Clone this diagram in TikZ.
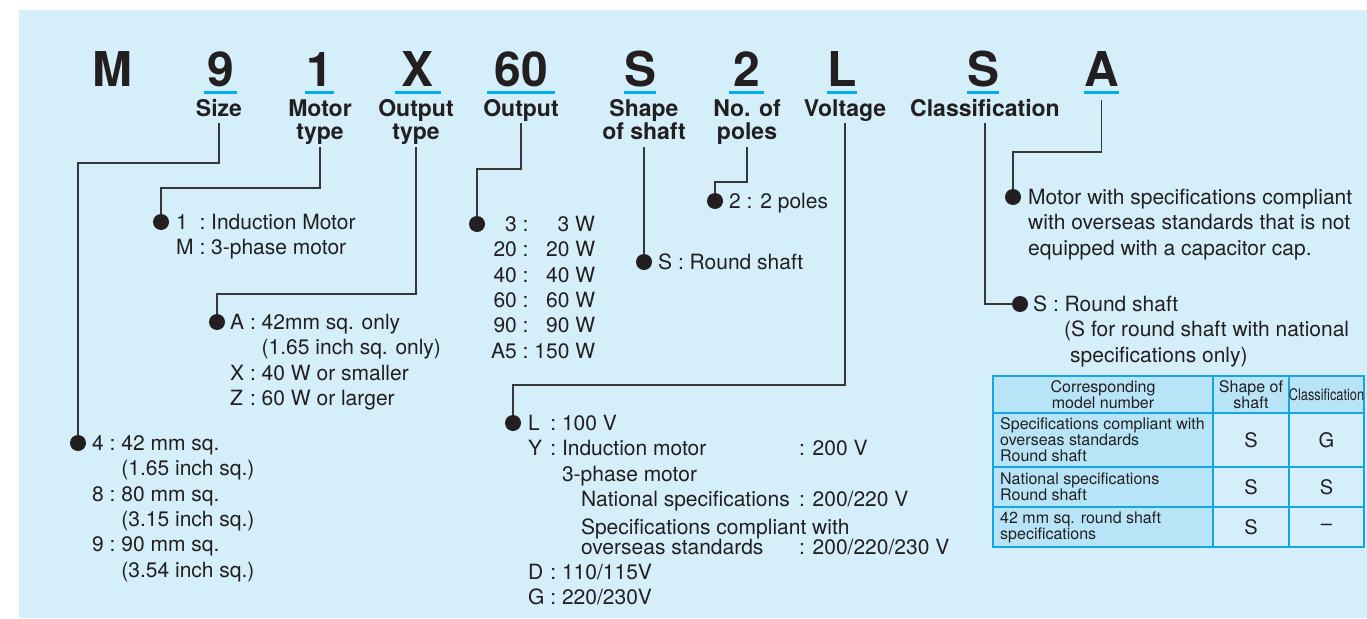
\documentclass[tikz,border=0pt]{standalone}
\usepackage{fontspec}
\setmainfont{TeX Gyre Heros}
\usepackage{graphicx}
\usepackage{tikz}
\usetikzlibrary{positioning, calc}
\definecolor{cPanel}{RGB}{212,238,250}
\definecolor{cCyan}{RGB}{0,174,239}
\definecolor{cHead}{RGB}{184,228,248}
\definecolor{cRule}{RGB}{20,165,228}
\definecolor{cInk}{RGB}{35,31,32}
\definecolor{cLead}{RGB}{55,55,55}
\tikzset{
	codechar/.style={anchor=base, inner sep=0pt, font=\fontsize{48}{48}\selectfont\bfseries, text=cInk},
	ttl/.style     ={anchor=base, inner sep=0pt, font=\fontsize{23}{23.5}\selectfont\bfseries, text=cInk},
	desc/.style    ={anchor=base west, inner sep=0pt, font=\fontsize{21}{25.3}\selectfont, text=cInk},
	bullet/.style  ={circle, fill=cInk, minimum size=16pt, inner sep=0pt},
	lead/.style    ={draw=cLead, line width=1.1pt},
	uline/.style   ={draw=cCyan, line width=3pt},
	% table styles
	cell/.style    ={font=\fontsize{16}{16}\selectfont, text=cInk, inner sep=0pt, align=left},
	val/.style     ={font=\fontsize{20}{20}\selectfont, text=cInk, inner sep=0pt},
	tabrule/.style ={draw=cRule, line width=1.3pt},
}
\begin{document}
\begin{tikzpicture}[x=1pt, y=-1pt]
	\useasboundingbox (0,0) rectangle (1367,618);
	\fill[cPanel] (19,10) rectangle (1367,618);
	% model code
	\node[codechar] (cM) at (112.5,86) {M};
	\node[codechar, minimum width=33pt] (c9) at (220.5,86) {9};
	\node[codechar, minimum width=29pt] (c1) at (319.5,86) {1};
	\node[codechar, minimum width=46pt] (cX) at (418,86) {X};
	\node[codechar, minimum width=68pt] (c60) at (521,86) {60};
	\node[codechar, minimum width=32pt] (cS) at (640,86) {S};
	\node[codechar, minimum width=35pt] (c2) at (746.5,86) {2};
	\node[codechar, minimum width=30pt] (cL) at (842,86) {L};
	\node[codechar, minimum width=30pt] (cSc) at (983,86) {S};
	\node[codechar, minimum width=31pt] (cA) at (1101.5,86) {A};
	\foreach \c in {c9,c1,cX,c60,cS,c2,cL,cSc,cA}
		\draw[uline] ([yshift=-6pt]\c.south west) -- ([yshift=-6pt]\c.south east);
	% titles
	\node[ttl] (lsize) at (219,116) {\begin{tabular}[t]{@{}c@{}}Size\end{tabular}};
	\node[ttl] (lmotor) at (320,116) {\begin{tabular}[t]{@{}c@{}}Motor\\type\end{tabular}};
	\node[ttl] (louttype) at (416,116) {\begin{tabular}[t]{@{}c@{}}Output\\type\end{tabular}};
	\node[ttl] (loutput) at (521,116) {\begin{tabular}[t]{@{}c@{}}Output\end{tabular}};
	\node[ttl] (lshaft) at (644,116) {\begin{tabular}[t]{@{}c@{}}Shape\\of shaft\end{tabular}};
	\node[ttl] (lpoles) at (747,116) {\begin{tabular}[t]{@{}c@{}}No. of\\poles\end{tabular}};
	\node[ttl] (lvolt) at (845,116) {\begin{tabular}[t]{@{}c@{}}Voltage\end{tabular}};
	\node[ttl] (lclass) at (985,116) {\begin{tabular}[t]{@{}c@{}}Classification\end{tabular}};
	% bullets
	\node[bullet] (dsize) at (78,443) {};
	\node[bullet] (dmotor) at (161,222) {};
	\node[bullet] (douttype) at (217,322) {};
	\node[bullet] (doutput) at (477,224) {};
	\node[bullet] (dshaft) at (644,262) {};
	\node[bullet] (dpoles) at (715,201) {};
	\node[bullet] (dvolt) at (513,423) {};
	\node[bullet] (dclass) at (1020,304) {};
	\node[bullet] (dA) at (1013,197) {};
	% leaders
	\draw[lead] (lsize.south) -- (lsize.south |- 0,163) -| (dsize);
	\draw[lead] (lmotor.south) -- (lmotor.south |- 0,188) -| (dmotor);
	\draw[lead] (louttype.south) -- (louttype.south |- 0,294) -| (douttype);
	\draw[lead] (loutput.south) -- (loutput.south |- 0,169) -| (doutput);
	\draw[lead] (lshaft.south) -- (dshaft);
	\draw[lead] (lpoles.south) -- (lpoles.south |- 0,182) -| (dpoles);
	\draw[lead] (lvolt.south) -- (lvolt.south |- 0,385) -| (dvolt);
	\draw[lead] (lclass.south) |- (dclass);
	\draw[lead] ([yshift=-14pt]cA.south) -- (cA.south |- 0,152) -| (dA);
	% option texts
	\node[desc] (tsize) at (92,450.5) {\begin{tabular}[t]{@{}l@{\ }l@{\ }l@{}}
		4 & : & 42 mm sq.\\
		  &   & (1.65 inch sq.)\\
		8 & : & 80 mm sq.\\
		  &   & (3.15 inch sq.)\\
		9 & : & 90 mm sq.\\
		  &   & (3.54 inch sq.)
	\end{tabular}};
	\node[desc] (tmotor) at (176,229.5) {\begin{tabular}[t]{@{}l@{\ }l@{\ }l@{}}
		1 & : & Induction Motor\\
		M & : & 3-phase motor
	\end{tabular}};
	\node[desc] (touttype) at (230,329.5) {\begin{tabular}[t]{@{}l@{\ }l@{\ }l@{}}
		A & : & 42mm sq. only\\
		  &   & (1.65 inch sq. only)\\
		X & : & 40 W or smaller\\
		Z & : & 60 W or larger
	\end{tabular}};
	\node[desc] (toutput) at (491,231.5) {\begin{tabular}[t]{@{}r@{\ }l@{\ }r@{}}
		3 & : & 3 W\\
		20 & : & 20 W\\
		40 & : & 40 W\\
		60 & : & 60 W\\
		90 & : & 90 W\\
		A5 & : & 150 W
	\end{tabular}};
	\node[desc] (tshaft) at (658,269.5) {S : Round shaft};
	\node[desc] (tpoles) at (729,208.5) {2 : 2 poles};
	\node[desc] (tvolt) at (528,430.5) {\begin{tabular}[t]{@{}l@{\ }l@{\ }l@{}}
		L & : & 100 V\\
		Y & : & \makebox[237pt][l]{Induction motor}: 200 V\\
		  &   & 3-phase motor\\
		  &   & \hspace{19pt}\makebox[218pt][l]{National specifications}: 200/220 V\\[2.5pt]
		  &   & \hspace{19pt}Specifications compliant with\\[-5.5pt]
		  &   & \hspace{19pt}\makebox[218pt][l]{overseas standards}: 200/220/230 V\\
		D & : & 110/115V\\
		G & : & 220/230V
	\end{tabular}};
	\node[desc] (tA) at (1028,204.5) {\begin{tabular}[t]{@{}l@{}}
		Motor with specifications compliant\\
		with overseas standards that is not\\
		equipped with a capacitor cap.
	\end{tabular}};
	\node[desc] (tclass) at (1033,311.5) {\begin{tabular}[t]{@{}l@{}}
		S : Round shaft\\
		\hspace{31pt}(S for round shaft with national\\
		\hspace{37pt}specifications only)
	\end{tabular}};
	% table
	\fill[cHead] (993,376) rectangle (1364,413);
	\fill[cHead] (993,413) rectangle (1213,547);
	\draw[tabrule] (993,376) rectangle (1364,547);
	\draw[tabrule] (993,413) -- (1364,413);
	\draw[tabrule] (993,467) -- (1364,467);
	\draw[tabrule] (993,507) -- (1364,507);
	\draw[tabrule] (1213,376) -- (1213,547);
	\draw[tabrule] (1289,376) -- (1289,547);
	\node[cell, align=center] (h1) at (1103,394.5) {Corresponding\\model number};
	\node[cell, align=center] (h2) at (1251,394.5) {Shape of\\shaft};
	\node[cell] (h3) at (1326.5,394.5) {\scalebox{0.8}[1]{Classification}};
	\node[cell, anchor=west] (r1) at (1000,440) {Specifications compliant with\\overseas standards\\Round shaft};
	\node[cell, anchor=west] (r2) at (1000,487) {National specifications\\Round shaft};
	\node[cell, anchor=west] (r3) at (1000,527) {42 mm sq. round shaft\\specifications};
	\node[val] (s1) at (1251,440) {S};
	\node[val] (s2) at (1251,487) {S};
	\node[val] (s3) at (1251,527) {S};
	\node[val] (k1) at (1326.5,440) {G};
	\node[val] (k2) at (1326.5,487) {S};
	\node[val] (k3) at (1326.5,527) {--};
\end{tikzpicture}
\end{document}
